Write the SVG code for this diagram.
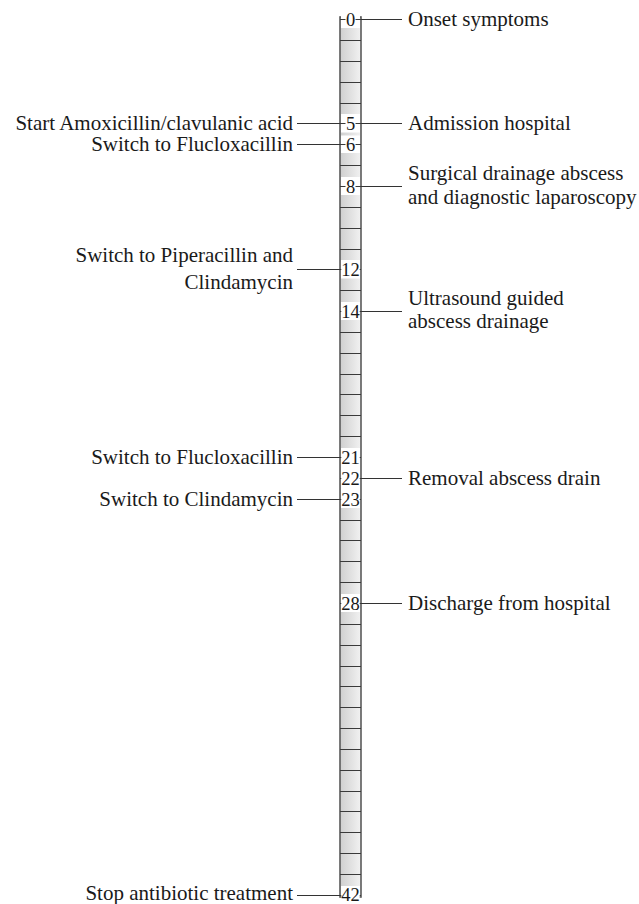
<svg xmlns="http://www.w3.org/2000/svg" width="639" height="904" viewBox="0 0 639 904">
<defs>
<linearGradient id="barGrad" gradientUnits="userSpaceOnUse" x1="340" y1="0" x2="361" y2="0">
<stop offset="0" stop-color="#cfcfcf"/>
<stop offset="1" stop-color="#f2f2f2"/>
</linearGradient>
</defs>
<style>
.lbl{font-family:"Liberation Serif","Times New Roman",serif;font-size:21px;fill:#1a1a1a}
.l{text-anchor:end}
.num{font-family:"Liberation Serif","Times New Roman",serif;font-size:18.5px;fill:#1a1a1a;text-anchor:middle}
.tick{stroke:#3a3a3a;stroke-width:1.1;fill:none}
.conn{stroke:#333;stroke-width:1.1;fill:none}
.cover{fill:#fff}
</style>
<rect width="639" height="904" fill="#fff"/>
<g id="timeline">
<rect x="340" y="17" width="21" height="880" fill="url(#barGrad)" stroke="#5a5a5a" stroke-width="1.6"/>
<path class="tick" d="M340 40.5H361M340 61.5H361M340 82.5H361M340 103.5H361M340 165.5H361M340 207.5H361M340 228.5H361M340 249.5H361M340 290.5H361M340 332.5H361M340 353.5H361M340 374.5H361M340 394.5H361M340 415.5H361M340 436.5H361M340 520.5H361M340 540.5H361M340 561.5H361M340 582.5H361M340 624.5H361M340 645.5H361M340 666.5H361M340 686.5H361M340 707.5H361M340 728.5H361M340 749.5H361M340 770.5H361M340 791.5H361M340 811.5H361M340 832.5H361M340 853.5H361M340 874.5H361"/>
<g id="day-labels">
<path class="cover" d="M341 10H360V28H341ZM341 114H360V132.5H341ZM341 135.5H360V153H341ZM341 177H360V195H341ZM341 260H360V278.5H341ZM341 302H360V320H341ZM341 448H360V508H341ZM341 594H360V612H341ZM341 886H360V896H341Z"/>
<path class="tick" d="M340 19.5H361M340 123.5H361M340 144.5H361M340 186.5H361M340 269.5H361M340 311.5H361M340 457.5H361M340 478.5H361M340 499.5H361M340 603.5H361M340 895.5H361"/>
<path class="cover" d="M345.5 12H355.5V26H345.5ZM345.5 116H355.5V130H345.5ZM345.5 137H355.5V151H345.5ZM345.5 179H355.5V193H345.5ZM341.3 262H359.7V276H341.3ZM341.3 304H359.7V318H341.3ZM341.3 450H359.7V464H341.3ZM341.3 471H359.7V485H341.3ZM341.3 492H359.7V506H341.3ZM341.3 596H359.7V610H341.3ZM341.3 888H359.7V902H341.3Z"/>
<text class="num" x="350.5" y="25.6">0</text>
<text class="num" x="350.5" y="129.6">5</text>
<text class="num" x="350.5" y="150.6">6</text>
<text class="num" x="350.5" y="192.6">8</text>
<text class="num" x="350.5" y="275.6">12</text>
<text class="num" x="350.5" y="317.6">14</text>
<text class="num" x="350.5" y="463.6">21</text>
<text class="num" x="350.5" y="484.6">22</text>
<text class="num" x="350.5" y="505.6">23</text>
<text class="num" x="350.5" y="609.6">28</text>
<text class="num" x="350.5" y="901.3">42</text>
</g>
</g>
<g id="connectors">
<path class="conn" d="M361 19.5H402M297 123.5H340M361 123.5H402M297 144.5H340M361 186.5H402M297 269.5H340M361 311.5H402M297 457.5H340M361 478.5H402M297 499.5H340M361 603.5H402M297 895.5H340"/>
</g>
<g id="ev-onset"><text class="lbl" x="408" y="26">Onset symptoms</text></g>
<g id="ev-admission"><text class="lbl" x="408" y="130.4">Admission hospital</text></g>
<g id="ev-amoxicillin"><text class="lbl l" x="293" y="130.4">Start Amoxicillin/clavulanic acid</text></g>
<g id="ev-flucloxacillin-1"><text class="lbl l" x="293" y="151.2">Switch to Flucloxacillin</text></g>
<g id="ev-surgical"><text class="lbl" x="408" y="179.5">Surgical drainage abscess</text><text class="lbl" x="408" y="203.5">and diagnostic laparoscopy</text></g>
<g id="ev-piperacillin"><text class="lbl l" x="293" y="261.5">Switch to Piperacillin and</text><text class="lbl l" x="293" y="289">Clindamycin</text></g>
<g id="ev-ultrasound"><text class="lbl" x="408" y="304.8">Ultrasound guided</text><text class="lbl" x="408" y="328.3">abscess drainage</text></g>
<g id="ev-flucloxacillin-2"><text class="lbl l" x="293" y="464">Switch to Flucloxacillin</text></g>
<g id="ev-removal"><text class="lbl" x="408" y="484.8">Removal abscess drain</text></g>
<g id="ev-clindamycin"><text class="lbl l" x="293" y="505.7">Switch to Clindamycin</text></g>
<g id="ev-discharge"><text class="lbl" x="408" y="610">Discharge from hospital</text></g>
<g id="ev-stop"><text class="lbl l" x="293" y="900">Stop antibiotic treatment</text></g>
</svg>
